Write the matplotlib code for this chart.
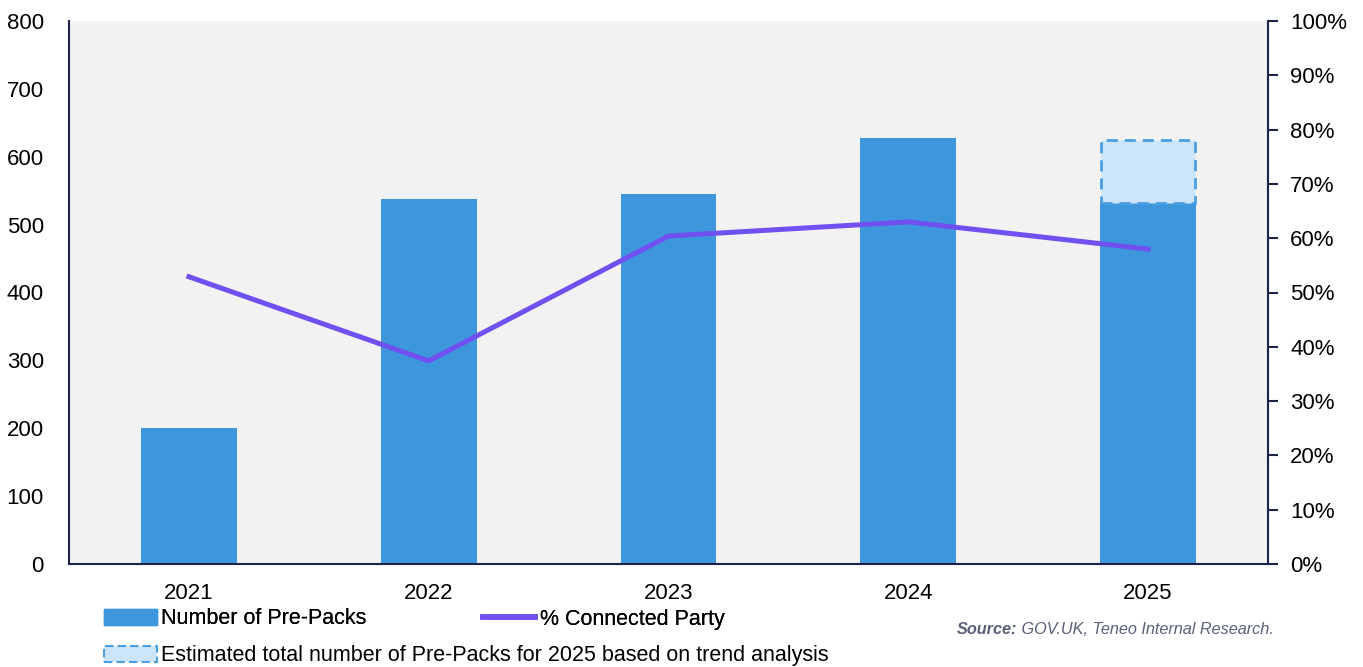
import matplotlib
matplotlib.use("Agg")
import matplotlib.pyplot as plt
from matplotlib.patches import Patch
from matplotlib.lines import Line2D
from matplotlib.ticker import PercentFormatter

plt.rcParams["font.family"] = ["Liberation Sans", "DejaVu Sans"]

years = ["2021", "2022", "2023", "2024", "2025"]
pre_packs = [200, 538, 545, 627, 532]
estimate_total_2025 = 625
connected_pct = [52.9, 37.4, 60.4, 63.0, 58.0]

bar_color = "#3E97DD"
est_fill = "#CCE5FA"
est_edge = "#4A9FE2"
line_color = "#7050F0"
spine_color = "#1B2447"
bg_color = "#F2F2F2"

W, H = 1363, 667
fig = plt.figure(figsize=(W / 100, H / 100), dpi=100)
ax = fig.add_axes([69 / W, 1 - 564 / H, (1268 - 69) / W, (564 - 21) / H])
ax.set_facecolor(bg_color)

x = list(range(len(years)))
ax.bar(x, pre_packs, width=0.4, color=bar_color, zorder=2)
# estimated remainder for the final year
ax.bar(x[-1], estimate_total_2025 - pre_packs[-1], bottom=pre_packs[-1], width=0.39,
       facecolor=est_fill, edgecolor=est_edge, linestyle=(0, (4, 2.5)), linewidth=2, zorder=2)

ax.set_xlim(-0.5, len(years) - 0.5)
ax.set_ylim(0, 800)
ax.set_yticks(range(0, 801, 100))
ax.set_xticks(x)
ax.set_xticklabels(years)
ax.tick_params(axis="y", length=0, labelsize=16, pad=18)
ax.tick_params(axis="x", length=0, labelsize=16, pad=14)
for side in ["top", "right"]:
    ax.spines[side].set_visible(False)
for side in ["left", "bottom"]:
    ax.spines[side].set_color(spine_color)
    ax.spines[side].set_linewidth(1.5)

ax2 = ax.twinx()
ax2.plot(x, connected_pct, color=line_color, linewidth=3.6, solid_joinstyle="miter", zorder=3)
ax2.set_ylim(0, 100)
ax2.set_yticks(range(0, 101, 10))
ax2.yaxis.set_major_formatter(PercentFormatter(decimals=0))
ax2.tick_params(axis="y", length=7, width=1.5, color=spine_color, labelsize=16, pad=9)
for side in ["top", "left", "bottom"]:
    ax2.spines[side].set_visible(False)
ax2.spines["right"].set_color(spine_color)
ax2.spines["right"].set_linewidth(1.5)

handles1 = [Patch(facecolor=bar_color, edgecolor=bar_color), Line2D([], [], color=line_color, linewidth=4)]
labels1 = ["Number of Pre-Packs", "% Connected Party"]
leg1 = fig.legend(handles1, labels1, ncol=2, loc="center left", bbox_to_anchor=(104 / W, 1 - 619 / H),
                  frameon=False, fontsize=15.5, handlelength=2.45, handletextpad=0.2, columnspacing=5.4,
                  borderaxespad=0, borderpad=0)
handles2 = [Patch(facecolor=est_fill, edgecolor=est_edge, linestyle=(0, (4, 2)), linewidth=1.5)]
labels2 = ["Estimated total number of Pre-Packs for 2025 based on trend analysis"]
fig.legend(handles2, labels2, loc="center left", bbox_to_anchor=(104 / W, 1 - 656 / H),
           frameon=False, fontsize=15.5, handlelength=2.45, handletextpad=0.2, borderaxespad=0, borderpad=0)
fig.add_artist(leg1)

# source note: bold-italic label followed by italic text, right-aligned
src_color = "#5A6078"
src_y = 1 - 629 / H
rest = fig.text(1274 / W, src_y, " GOV.UK, Teneo Internal Research.", ha="right", va="center",
                fontsize=11.7, style="italic", color=src_color)
renderer = fig.canvas.get_renderer()
bb = rest.get_window_extent(renderer)
fig.text(bb.x0 / W, src_y, "Source:", ha="right", va="center",
         fontsize=11.7, style="italic", weight="bold", color=src_color)

fig.savefig("out.png", dpi=100)
